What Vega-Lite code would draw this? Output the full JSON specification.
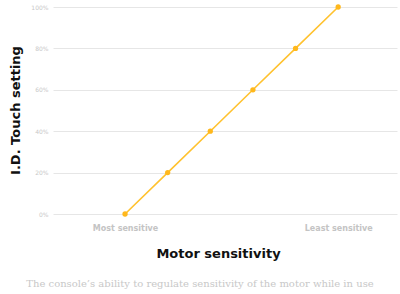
{
  "$schema": "https://vega.github.io/schema/vega-lite/v6.json",
  "width": 344,
  "height": 207,
  "autosize": {"type": "none"},
  "padding": {"left": 53, "top": 7, "right": 3, "bottom": 80},
  "background": "white",
  "title": {
    "text": "The console’s ability to regulate sensitivity of the motor while in use",
    "orient": "bottom",
    "anchor": "middle",
    "frame": "group",
    "dx": -25,
    "offset": 19,
    "font": "DejaVu Serif",
    "fontSize": 10,
    "fontWeight": "normal",
    "color": "#c8c8c8"
  },
  "data": {
    "values": [
      {"sensitivity": 0, "setting": 0},
      {"sensitivity": 1, "setting": 20},
      {"sensitivity": 2, "setting": 40},
      {"sensitivity": 3, "setting": 60},
      {"sensitivity": 4, "setting": 80},
      {"sensitivity": 5, "setting": 100}
    ]
  },
  "config": {"view": {"stroke": null}},
  "encoding": {
    "x": {
      "field": "sensitivity",
      "type": "quantitative",
      "scale": {"domain": [-1.69, 6.38], "nice": false, "zero": false},
      "axis": {
        "values": [0, 5],
        "labelExpr": "datum.value == 0 ? 'Most sensitive' : 'Least sensitive'",
        "grid": false,
        "domain": false,
        "ticks": false,
        "labelPadding": 10,
        "labelFont": "DejaVu Sans",
        "labelFontWeight": "bold",
        "labelFontSize": 8,
        "labelColor": "#c4c4c4",
        "title": "Motor sensitivity",
        "titleFont": "DejaVu Sans",
        "titleFontSize": 13,
        "titleFontWeight": "bold",
        "titleColor": "#111",
        "titlePadding": 15,
        "titleX": 165
      }
    },
    "y": {
      "field": "setting",
      "type": "quantitative",
      "scale": {"domain": [0, 100], "nice": false},
      "axis": {
        "values": [0, 20, 40, 60, 80, 100],
        "labelExpr": "datum.value + '%'",
        "grid": true,
        "gridColor": "#e6e6e6",
        "gridWidth": 1,
        "domain": false,
        "ticks": false,
        "labelPadding": 5,
        "labelFont": "DejaVu Sans",
        "labelFontSize": 6,
        "labelColor": "#c8c8c8",
        "title": "I.D. Touch setting",
        "titleFont": "DejaVu Sans",
        "titleFontSize": 13,
        "titleFontWeight": "bold",
        "titleColor": "#111",
        "titleX": -31,
        "titleY": 103
      }
    }
  },
  "layer": [
    {"mark": {"type": "line", "color": "#FFC22E", "strokeWidth": 1.6}},
    {"mark": {"type": "point", "filled": true, "color": "#FFB81C", "size": 28, "opacity": 1}}
  ]
}
